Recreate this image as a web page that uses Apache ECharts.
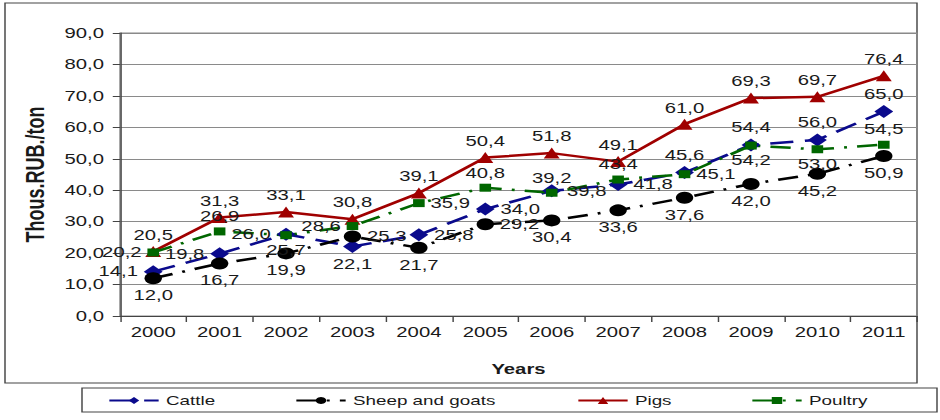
<!DOCTYPE html>
<html>
<head>
<meta charset="utf-8">
<script src="https://cdn.jsdelivr.net/npm/echarts@6/dist/echarts.min.js"></script>
<style>html,body{margin:0;padding:0;background:#fff;overflow:hidden}#wrap{width:940px;height:420px;overflow:hidden}#c{height:420px;transform-origin:0 0}</style>
</head>
<body>
<div id="wrap"><div id="c"></div></div>
<script>
const years = ['2000','2001','2002','2003','2004','2005','2006','2007','2008','2009','2010','2011'];
const cattle = [14.1, 19.8, 26.0, 22.1, 25.8, 34.0, 39.8, 41.8, 45.6, 54.4, 56.0, 65.0];
const sheepGoats = [12.0, 16.7, 19.9, 25.3, 21.7, 29.2, 30.4, 33.6, 37.6, 42.0, 45.2, 50.9];
const pigs = [20.5, 31.3, 33.1, 30.8, 39.1, 50.4, 51.8, 49.1, 61.0, 69.3, 69.7, 76.4];
const poultry = [20.2, 26.9, 25.7, 28.6, 35.9, 40.8, 39.2, 43.4, 45.1, 54.2, 53.0, 54.5];
const yTicks = {min: 0, max: 90, interval: 10};

// value-label placement per year (styling only, kept apart from the data)
const cattleLabelPos  = ['left','left','left','bottom','right','right','right','right','top','top','top','top'];
const sheepLabelPos   = ['bottom','bottom','bottom','right','bottom','right','bottom','bottom','bottom','bottom','bottom','bottom'];
const pigsLabelPos    = ['top','top','top','top','top','top','top','top','top','top','top','top'];
const poultryLabelPos = ['left','top','bottom','left','right','top','top','top','right','bottom','bottom','top'];

// The reference picture is horizontally stretched; draw narrower and stretch.
const S = 1.45;
const W = 940 / S;
const X = px => px / S;
const el = document.getElementById('c');
el.style.width = W + 'px';
el.style.transform = 'scaleX(' + S + ')';

const FONT = 'Liberation Sans, Arial, sans-serif';
const fmt = v => Number(v).toFixed(1).replace('.', ',');

function lineSeries(name, values, positions, color, dash, symbol, size) {
  return {
    name, type: 'line', symbol, symbolSize: size,
    data: values.map((v, i) => ({value: v, label: {position: positions[i]}})),
    itemStyle: {color},
    lineStyle: {color, width: 2.5, type: dash},
    label: {show: true, distance: 4, formatter: p => fmt(p.value),
            fontFamily: FONT, fontSize: 14, color: '#1a1a1a'},
    z: 3
  };
}

const chart = echarts.init(el, null, {renderer: 'svg', width: W, height: 420});
chart.setOption({
  animation: false,
  backgroundColor: '#fff',
  textStyle: {fontFamily: FONT},
  graphic: [
    {type: 'rect', shape: {x: X(5), y: 3, width: X(912), height: 380}, style: {fill: 'none', stroke: '#444', lineWidth: 1}, z: -1},
    {type: 'rect', shape: {x: X(82), y: 388, width: X(855), height: 24}, style: {fill: '#fff', stroke: '#444', lineWidth: 1}, z: -1}
  ],
  grid: {left: X(120), right: W - X(917), top: 33, bottom: 104, show: true, borderColor: '#888', borderWidth: 1},
  xAxis: {
    type: 'category', data: years, boundaryGap: true,
    axisLine: {lineStyle: {color: '#444'}},
    axisTick: {show: true, length: 6, lineStyle: {color: '#444'}},
    axisLabel: {fontSize: 14, color: '#1a1a1a', margin: 9, fontFamily: FONT},
    name: 'Years', nameLocation: 'middle', nameGap: 46,
    nameTextStyle: {fontSize: 14, fontWeight: 'bold', color: '#1a1a1a', fontFamily: FONT}
  },
  yAxis: {
    type: 'value', min: yTicks.min, max: yTicks.max, interval: yTicks.interval,
    axisLine: {show: true, lineStyle: {color: '#444'}},
    axisTick: {show: true, length: 5, lineStyle: {color: '#444'}},
    axisLabel: {fontSize: 14, color: '#1a1a1a', margin: 11, formatter: v => fmt(v), fontFamily: FONT},
    splitLine: {lineStyle: {color: '#8a8a8a', width: 1}},
    name: 'Thous.RUB./ton', nameLocation: 'middle', nameGap: 49, nameRotate: 90,
    nameTextStyle: {fontSize: 18, fontWeight: 'bold', color: '#1a1a1a', fontFamily: FONT}
  },
  legend: [
    {data: ['Cattle'], left: X(105), top: 392},
    {data: ['Sheep and goats'], left: X(292), top: 392},
    {data: ['Pigs'], left: X(574), top: 392},
    {data: ['Poultry'], left: X(748), top: 392}
  ].map(l => Object.assign(l, {itemWidth: 34, itemHeight: 9, itemGap: 6, padding: 2,
      textStyle: {fontSize: 13, color: '#1a1a1a', fontFamily: FONT}})),
  series: [
    lineSeries('Cattle', cattle, cattleLabelPos, '#0a0a8c', [16, 8], 'diamond', 13),
    lineSeries('Sheep and goats', sheepGoats, sheepLabelPos, '#000000', [14, 7, 2, 7], 'circle', 12),
    lineSeries('Pigs', pigs, pigsLabelPos, '#a00000', 'solid', 'triangle', 11),
    lineSeries('Poultry', poultry, poultryLabelPos, '#006600', [14, 7, 2, 7], 'rect', 8)
  ]
});
</script>
</body>
</html>
